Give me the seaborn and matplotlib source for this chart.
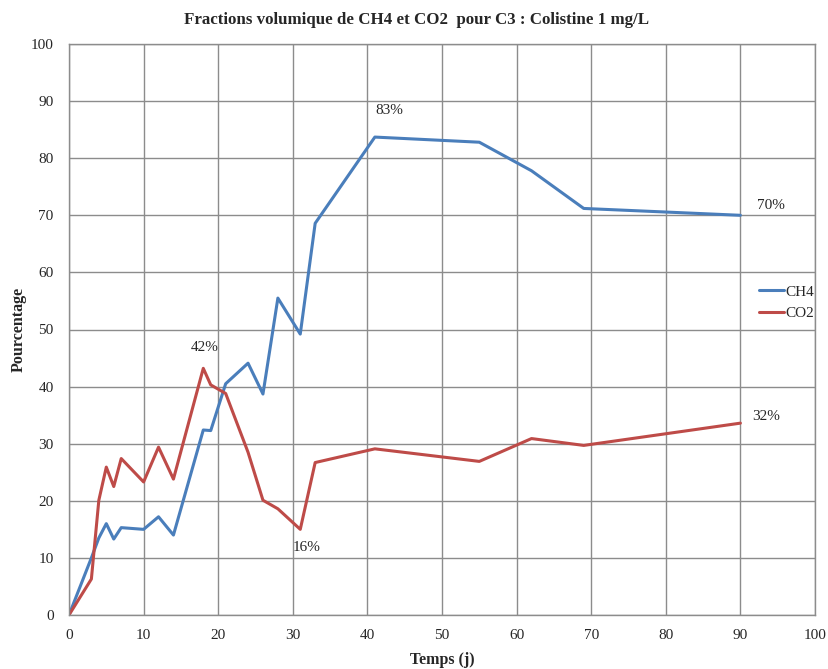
import numpy as np
import pandas as pd
import matplotlib
matplotlib.use("Agg")
import matplotlib.pyplot as plt
import seaborn as sns

days = [0, 3, 4, 5, 6, 7, 10, 12, 14, 18, 19, 21, 24, 26, 28, 31, 33, 41, 55, 62, 69, 90]
ch4 = [0, 10.0, 13.5, 16.0, 13.3, 15.3, 15.0, 17.2, 14.0, 32.4, 32.3, 40.5, 44.1, 38.7,
       55.5, 49.2, 68.6, 83.7, 82.8, 77.8, 71.2, 70.0]
co2 = [0, 6.3, 20.1, 25.9, 22.5, 27.4, 23.3, 29.4, 23.8, 43.2, 40.3, 38.8, 28.5, 20.1,
       18.6, 15.0, 26.7, 29.1, 26.9, 30.9, 29.7, 33.6]
series_names = ["CH4", "CO2"]
colors = ["#4A7EBB", "#BE4B48"]
annotations = [("83%", 42.9, 88.4), ("70%", 94.1, 71.8), ("42%", 18.2, 46.9),
               ("16%", 31.8, 11.9), ("32%", 93.4, 34.8)]

df = pd.DataFrame({
    "Temps": days * 2,
    "Pourcentage": ch4 + co2,
    "Gaz": ["CH4"] * len(days) + ["CO2"] * len(days),
})

sns.set_style("white")
plt.rcParams["font.family"] = ["Liberation Serif", "DejaVu Serif"]

fig = plt.figure(figsize=(8.29, 6.69), dpi=100)
ax = fig.add_axes([69 / 829, 1 - 615 / 669, 746 / 829, 571 / 669])

sns.lineplot(data=df, x="Temps", y="Pourcentage", hue="Gaz", hue_order=series_names,
             palette=colors, linewidth=2.2, ax=ax, sort=False)

ax.set_xlim(0, 100)
ax.set_ylim(0, 100)
ax.set_xticks(np.arange(0, 101, 10))
ax.set_yticks(np.arange(0, 101, 10))
ax.grid(True, color="#8c8c8c", linewidth=1.0)
ax.set_axisbelow(True)
for s in ax.spines.values():
    s.set_color("#8c8c8c")
    s.set_linewidth(1.0)
ax.tick_params(axis="x", labelsize=11, length=0, pad=10)
ax.tick_params(axis="y", labelsize=11, length=0, pad=11)
ax.set_xlabel("Temps (j)", fontsize=11.5, fontweight="bold", labelpad=7)
ax.set_ylabel("Pourcentage", fontsize=11.5, fontweight="bold", labelpad=3)
fig.text(417 / 829, 1 - 20 / 669,
         "Fractions volumique de CH4 et CO2  pour C3 : Colistine 1 mg/L",
         fontsize=12.2, fontweight="bold", ha="center", va="center")

for txt, x, y in annotations:
    ax.text(x, y, txt, fontsize=11, ha="center", va="center")

leg = ax.legend(loc="center", bbox_to_anchor=(0.962, 0.547), frameon=False,
                fontsize=11, handlelength=1.6, handletextpad=0.1, labelspacing=0.5)

fig.savefig("out.png", dpi=100)
